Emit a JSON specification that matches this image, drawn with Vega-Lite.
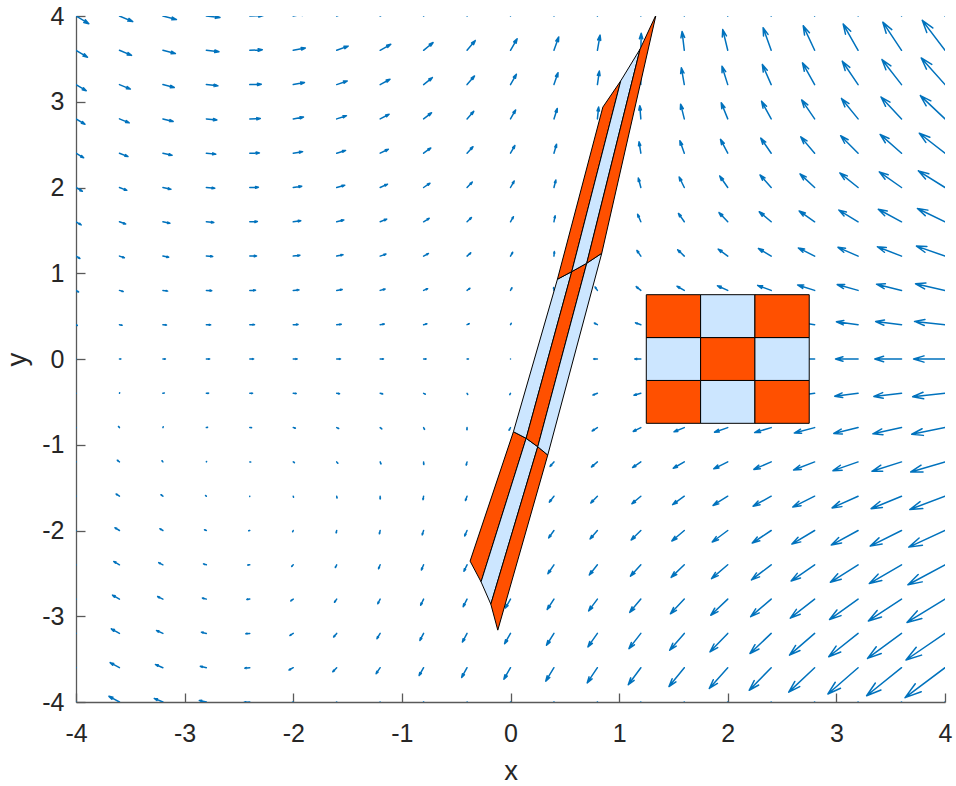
{
"$schema":"https://vega.github.io/schema/vega-lite/v6.json",
"width":869,"height":686,
"autosize":{"type":"none"},
"padding":{"left":76,"top":16,"right":11,"bottom":84},
"config":{"view":{"stroke":null},"font":"Liberation Sans",
"axis":{"grid":false,"tickSize":-9,"labelFontSize":25,"titleFontSize":27.5,"titleFontWeight":"normal","labelColor":"#262626","titleColor":"#262626","domainColor":"#595959","tickColor":"#595959","domainWidth":1.3,"tickWidth":1.3,"labelFlush":false,"labelOverlap":false}},
"datasets":{
"q":[
{"x":-4,"y":-4,"a":-59,"m":14.9},{"x":-4,"y":-3.6,"a":-59,"m":13.4},{"x":-4,"y":-3.2,"a":-59,"m":11.9},{"x":-4,"y":-2.8,"a":-59,"m":10.4},{"x":-4,"y":-2.4,"a":-59,"m":8.9},{"x":-4,"y":-2,"a":-59,"m":7.4},{"x":-4,"y":-1.6,"a":-59,"m":6.0},{"x":-4,"y":-1.2,"a":-59,"m":4.5},{"x":-4,"y":-0.8,"a":-59,"m":3.0},{"x":-4,"y":-0.4,"a":-59,"m":1.5},{"x":-4,"y":0,"a":0,"m":0},{"x":-4,"y":0.4,"a":121,"m":1.5},{"x":-4,"y":0.8,"a":121,"m":3.0},{"x":-4,"y":1.2,"a":121,"m":4.5},{"x":-4,"y":1.6,"a":121,"m":6.0},{"x":-4,"y":2,"a":121,"m":7.4},{"x":-4,"y":2.4,"a":121,"m":8.9},{"x":-4,"y":2.8,"a":121,"m":10.4},{"x":-4,"y":3.2,"a":121,"m":11.9},{"x":-4,"y":3.6,"a":121,"m":13.4},{"x":-4,"y":4,"a":121,"m":14.9},
{"x":-3.6,"y":-4,"a":-61.7,"m":11.9},{"x":-3.6,"y":-3.6,"a":-61.3,"m":10.6},{"x":-3.6,"y":-3.2,"a":-60.9,"m":9.3},{"x":-3.6,"y":-2.8,"a":-60.3,"m":8.0},{"x":-3.6,"y":-2.4,"a":-59.4,"m":6.6},{"x":-3.6,"y":-2,"a":-58.1,"m":5.3},{"x":-3.6,"y":-1.6,"a":-56.0,"m":4.0},{"x":-3.6,"y":-1.2,"a":-51.8,"m":2.7},{"x":-3.6,"y":-0.8,"a":-40.5,"m":1.5},{"x":-3.6,"y":-0.4,"a":21.7,"m":0.6},{"x":-3.6,"y":0,"a":90,"m":1.4},{"x":-3.6,"y":0.4,"a":102.2,"m":2.7},{"x":-3.6,"y":0.8,"a":106.6,"m":3.9},{"x":-3.6,"y":1.2,"a":108.8,"m":5.2},{"x":-3.6,"y":1.6,"a":110.1,"m":6.6},{"x":-3.6,"y":2,"a":111.0,"m":7.9},{"x":-3.6,"y":2.4,"a":111.6,"m":9.2},{"x":-3.6,"y":2.8,"a":112.1,"m":10.5},{"x":-3.6,"y":3.2,"a":112.4,"m":11.8},{"x":-3.6,"y":3.6,"a":112.7,"m":13.1},{"x":-3.6,"y":4,"a":113.0,"m":14.4},
{"x":-3.2,"y":-4,"a":-67.3,"m":9.3},{"x":-3.2,"y":-3.6,"a":-66.6,"m":8.1},{"x":-3.2,"y":-3.2,"a":-65.7,"m":7.0},{"x":-3.2,"y":-2.8,"a":-64.4,"m":5.8},{"x":-3.2,"y":-2.4,"a":-62.5,"m":4.7},{"x":-3.2,"y":-2,"a":-59.3,"m":3.5},{"x":-3.2,"y":-1.6,"a":-53.1,"m":2.4},{"x":-3.2,"y":-1.2,"a":-36.9,"m":1.4},{"x":-3.2,"y":-0.8,"a":22.6,"m":0.8},{"x":-3.2,"y":-0.4,"a":75.7,"m":1.5},{"x":-3.2,"y":0,"a":90,"m":2.5},{"x":-3.2,"y":0.4,"a":95.7,"m":3.6},{"x":-3.2,"y":0.8,"a":98.6,"m":4.8},{"x":-3.2,"y":1.2,"a":100.5,"m":5.9},{"x":-3.2,"y":1.6,"a":101.7,"m":7.1},{"x":-3.2,"y":2,"a":102.6,"m":8.2},{"x":-3.2,"y":2.4,"a":103.2,"m":9.4},{"x":-3.2,"y":2.8,"a":103.8,"m":10.6},{"x":-3.2,"y":3.2,"a":104.2,"m":11.7},{"x":-3.2,"y":3.6,"a":104.5,"m":12.9},{"x":-3.2,"y":4,"a":104.8,"m":14.0},
{"x":-2.8,"y":-4,"a":-77.7,"m":7.2},{"x":-2.8,"y":-3.6,"a":-77.0,"m":6.2},{"x":-2.8,"y":-3.2,"a":-76.1,"m":5.1},{"x":-2.8,"y":-2.8,"a":-74.7,"m":4.1},{"x":-2.8,"y":-2.4,"a":-72.4,"m":3.0},{"x":-2.8,"y":-2,"a":-67.6,"m":2.0},{"x":-2.8,"y":-1.6,"a":-53.7,"m":1.0},{"x":-2.8,"y":-1.2,"a":23.1,"m":0.5},{"x":-2.8,"y":-0.8,"a":76.0,"m":1.3},{"x":-2.8,"y":-0.4,"a":86.1,"m":2.3},{"x":-2.8,"y":0,"a":90,"m":3.3},{"x":-2.8,"y":0.4,"a":92.0,"m":4.3},{"x":-2.8,"y":0.8,"a":93.3,"m":5.4},{"x":-2.8,"y":1.2,"a":94.1,"m":6.4},{"x":-2.8,"y":1.6,"a":94.7,"m":7.5},{"x":-2.8,"y":2,"a":95.2,"m":8.5},{"x":-2.8,"y":2.4,"a":95.6,"m":9.5},{"x":-2.8,"y":2.8,"a":95.8,"m":10.6},{"x":-2.8,"y":3.2,"a":96.1,"m":11.6},{"x":-2.8,"y":3.6,"a":96.3,"m":12.7},{"x":-2.8,"y":4,"a":96.4,"m":13.7},
{"x":-2.4,"y":-4,"a":-95.0,"m":5.9},{"x":-2.4,"y":-3.6,"a":-95.3,"m":5.0},{"x":-2.4,"y":-3.2,"a":-95.9,"m":4.0},{"x":-2.4,"y":-2.8,"a":-96.8,"m":3.0},{"x":-2.4,"y":-2.4,"a":-98.6,"m":2.1},{"x":-2.4,"y":-2,"a":-103.5,"m":1.1},{"x":-2.4,"y":-1.6,"a":-153.3,"m":0.2},{"x":-2.4,"y":-1.2,"a":100.1,"m":0.9},{"x":-2.4,"y":-0.8,"a":93.2,"m":1.8},{"x":-2.4,"y":-0.4,"a":91.0,"m":2.8},{"x":-2.4,"y":0,"a":90,"m":3.8},{"x":-2.4,"y":0.4,"a":89.4,"m":4.7},{"x":-2.4,"y":0.8,"a":89.0,"m":5.7},{"x":-2.4,"y":1.2,"a":88.7,"m":6.7},{"x":-2.4,"y":1.6,"a":88.5,"m":7.6},{"x":-2.4,"y":2,"a":88.3,"m":8.6},{"x":-2.4,"y":2.4,"a":88.2,"m":9.6},{"x":-2.4,"y":2.8,"a":88.1,"m":10.5},{"x":-2.4,"y":3.2,"a":88.0,"m":11.5},{"x":-2.4,"y":3.6,"a":87.9,"m":12.5},{"x":-2.4,"y":4,"a":87.8,"m":13.4},
{"x":-2,"y":-4,"a":-116.4,"m":5.8},{"x":-2,"y":-3.6,"a":-118.4,"m":4.8},{"x":-2,"y":-3.2,"a":-121.5,"m":3.9},{"x":-2,"y":-2.8,"a":-126.3,"m":3.0},{"x":-2,"y":-2.4,"a":-135.1,"m":2.2},{"x":-2,"y":-2,"a":-154.2,"m":1.4},{"x":-2,"y":-1.6,"a":164.3,"m":1.1},{"x":-2,"y":-1.2,"a":122.7,"m":1.4},{"x":-2,"y":-0.8,"a":103.7,"m":2.2},{"x":-2,"y":-0.4,"a":94.9,"m":3.0},{"x":-2,"y":0,"a":90,"m":3.9},{"x":-2,"y":0.4,"a":87.0,"m":4.8},{"x":-2,"y":0.8,"a":84.9,"m":5.8},{"x":-2,"y":1.2,"a":83.4,"m":6.7},{"x":-2,"y":1.6,"a":82.3,"m":7.6},{"x":-2,"y":2,"a":81.4,"m":8.6},{"x":-2,"y":2.4,"a":80.7,"m":9.5},{"x":-2,"y":2.8,"a":80.1,"m":10.4},{"x":-2,"y":3.2,"a":79.6,"m":11.4},{"x":-2,"y":3.6,"a":79.2,"m":12.3},{"x":-2,"y":4,"a":78.9,"m":13.3},
{"x":-1.6,"y":-4,"a":-133.8,"m":6.7},{"x":-1.6,"y":-3.6,"a":-136.4,"m":5.7},{"x":-1.6,"y":-3.2,"a":-140.0,"m":4.8},{"x":-1.6,"y":-2.8,"a":-145.2,"m":3.9},{"x":-1.6,"y":-2.4,"a":-153.4,"m":3.1},{"x":-1.6,"y":-2,"a":-167.2,"m":2.4},{"x":-1.6,"y":-1.6,"a":169.8,"m":1.9},{"x":-1.6,"y":-1.2,"a":139.3,"m":1.8},{"x":-1.6,"y":-0.8,"a":114.2,"m":2.2},{"x":-1.6,"y":-0.4,"a":99.0,"m":2.9},{"x":-1.6,"y":0,"a":90,"m":3.8},{"x":-1.6,"y":0.4,"a":84.3,"m":4.6},{"x":-1.6,"y":0.8,"a":80.4,"m":5.6},{"x":-1.6,"y":1.2,"a":77.7,"m":6.5},{"x":-1.6,"y":1.6,"a":75.6,"m":7.4},{"x":-1.6,"y":2,"a":74.0,"m":8.4},{"x":-1.6,"y":2.4,"a":72.8,"m":9.3},{"x":-1.6,"y":2.8,"a":71.7,"m":10.3},{"x":-1.6,"y":3.2,"a":70.9,"m":11.2},{"x":-1.6,"y":3.6,"a":70.1,"m":12.2},{"x":-1.6,"y":4,"a":69.5,"m":13.2},
{"x":-1.2,"y":-4,"a":-143.9,"m":8.2},{"x":-1.2,"y":-3.6,"a":-146.0,"m":7.2},{"x":-1.2,"y":-3.2,"a":-148.8,"m":6.2},{"x":-1.2,"y":-2.8,"a":-152.7,"m":5.2},{"x":-1.2,"y":-2.4,"a":-158.2,"m":4.3},{"x":-1.2,"y":-2,"a":-166.8,"m":3.4},{"x":-1.2,"y":-1.6,"a":179.2,"m":2.7},{"x":-1.2,"y":-1.2,"a":156.9,"m":2.2},{"x":-1.2,"y":-0.8,"a":128.7,"m":2.1},{"x":-1.2,"y":-0.4,"a":105.0,"m":2.6},{"x":-1.2,"y":0,"a":90,"m":3.3},{"x":-1.2,"y":0.4,"a":80.8,"m":4.2},{"x":-1.2,"y":0.8,"a":74.9,"m":5.1},{"x":-1.2,"y":1.2,"a":70.8,"m":6.1},{"x":-1.2,"y":1.6,"a":67.9,"m":7.1},{"x":-1.2,"y":2,"a":65.7,"m":8.1},{"x":-1.2,"y":2.4,"a":64.0,"m":9.1},{"x":-1.2,"y":2.8,"a":62.6,"m":10.1},{"x":-1.2,"y":3.2,"a":61.5,"m":11.2},{"x":-1.2,"y":3.6,"a":60.6,"m":12.2},{"x":-1.2,"y":4,"a":59.8,"m":13.2},
{"x":-0.8,"y":-4,"a":-148.7,"m":10.2},{"x":-0.8,"y":-3.6,"a":-150.1,"m":9.0},{"x":-0.8,"y":-3.2,"a":-151.9,"m":7.9},{"x":-0.8,"y":-2.8,"a":-154.2,"m":6.8},{"x":-0.8,"y":-2.4,"a":-157.5,"m":5.7},{"x":-0.8,"y":-2,"a":-162.3,"m":4.6},{"x":-0.8,"y":-1.6,"a":-170.1,"m":3.5},{"x":-0.8,"y":-1.2,"a":176.3,"m":2.6},{"x":-0.8,"y":-0.8,"a":151.4,"m":2.0},{"x":-0.8,"y":-0.4,"a":116.7,"m":1.9},{"x":-0.8,"y":0,"a":90,"m":2.5},{"x":-0.8,"y":0.4,"a":75.2,"m":3.4},{"x":-0.8,"y":0.8,"a":66.8,"m":4.4},{"x":-0.8,"y":1.2,"a":61.7,"m":5.5},{"x":-0.8,"y":1.6,"a":58.3,"m":6.6},{"x":-0.8,"y":2,"a":55.8,"m":7.7},{"x":-0.8,"y":2.4,"a":54.0,"m":8.9},{"x":-0.8,"y":2.8,"a":52.6,"m":10.0},{"x":-0.8,"y":3.2,"a":51.5,"m":11.2},{"x":-0.8,"y":3.6,"a":50.6,"m":12.3},{"x":-0.8,"y":4,"a":49.8,"m":13.5},
{"x":-0.4,"y":-4,"a":-150.4,"m":12.4},{"x":-0.4,"y":-3.6,"a":-151.0,"m":11.1},{"x":-0.4,"y":-3.2,"a":-151.8,"m":9.8},{"x":-0.4,"y":-2.8,"a":-152.9,"m":8.5},{"x":-0.4,"y":-2.4,"a":-154.3,"m":7.2},{"x":-0.4,"y":-2,"a":-156.4,"m":5.9},{"x":-0.4,"y":-1.6,"a":-159.6,"m":4.6},{"x":-0.4,"y":-1.2,"a":-165.3,"m":3.3},{"x":-0.4,"y":-0.8,"a":-177.5,"m":2.2},{"x":-0.4,"y":-0.4,"a":148.5,"m":1.3},{"x":-0.4,"y":0,"a":90,"m":1.4},{"x":-0.4,"y":0.4,"a":63.6,"m":2.4},{"x":-0.4,"y":0.8,"a":53.6,"m":3.6},{"x":-0.4,"y":1.2,"a":48.7,"m":4.9},{"x":-0.4,"y":1.6,"a":45.8,"m":6.2},{"x":-0.4,"y":2,"a":43.9,"m":7.5},{"x":-0.4,"y":2.4,"a":42.6,"m":8.8},{"x":-0.4,"y":2.8,"a":41.6,"m":10.1},{"x":-0.4,"y":3.2,"a":40.8,"m":11.4},{"x":-0.4,"y":3.6,"a":40.2,"m":12.7},{"x":-0.4,"y":4,"a":39.7,"m":14.0},
{"x":0,"y":-4,"a":-150.2,"m":14.7},{"x":0,"y":-3.6,"a":-150.2,"m":13.3},{"x":0,"y":-3.2,"a":-150.2,"m":11.8},{"x":0,"y":-2.8,"a":-150.2,"m":10.3},{"x":0,"y":-2.4,"a":-150.2,"m":8.8},{"x":0,"y":-2,"a":-150.2,"m":7.4},{"x":0,"y":-1.6,"a":-150.2,"m":5.9},{"x":0,"y":-1.2,"a":-150.2,"m":4.4},{"x":0,"y":-0.8,"a":-150.2,"m":2.9},{"x":0,"y":-0.4,"a":-150.2,"m":1.5},{"x":0,"y":0,"a":0,"m":0},{"x":0,"y":0.4,"a":29.8,"m":1.5},{"x":0,"y":0.8,"a":29.8,"m":2.9},{"x":0,"y":1.2,"a":29.8,"m":4.4},{"x":0,"y":1.6,"a":29.8,"m":5.9},{"x":0,"y":2,"a":29.8,"m":7.4},{"x":0,"y":2.4,"a":29.8,"m":8.8},{"x":0,"y":2.8,"a":29.8,"m":10.3},{"x":0,"y":3.2,"a":29.8,"m":11.8},{"x":0,"y":3.6,"a":29.8,"m":13.3},{"x":0,"y":4,"a":29.8,"m":14.7},
{"x":0.4,"y":-4,"a":-149.0,"m":17.3},{"x":0.4,"y":-3.6,"a":-148.5,"m":15.7},{"x":0.4,"y":-3.2,"a":-147.8,"m":14.0},{"x":0.4,"y":-2.8,"a":-146.9,"m":12.4},{"x":0.4,"y":-2.4,"a":-145.8,"m":10.8},{"x":0.4,"y":-2,"a":-144.4,"m":9.1},{"x":0.4,"y":-1.6,"a":-142.2,"m":7.5},{"x":0.4,"y":-1.2,"a":-138.9,"m":5.9},{"x":0.4,"y":-0.8,"a":-133.2,"m":4.3},{"x":0.4,"y":-0.4,"a":-121.3,"m":2.9},{"x":0.4,"y":0,"a":-90,"m":1.7},{"x":0.4,"y":0.4,"a":-34.1,"m":1.8},{"x":0.4,"y":0.8,"a":-5.5,"m":3.0},{"x":0.4,"y":1.2,"a":5.6,"m":4.5},{"x":0.4,"y":1.6,"a":11.0,"m":6.1},{"x":0.4,"y":2,"a":14.2,"m":7.7},{"x":0.4,"y":2.4,"a":16.2,"m":9.3},{"x":0.4,"y":2.8,"a":17.7,"m":10.9},{"x":0.4,"y":3.2,"a":18.8,"m":12.6},{"x":0.4,"y":3.6,"a":19.6,"m":14.2},{"x":0.4,"y":4,"a":20.2,"m":15.8},
{"x":0.8,"y":-4,"a":-147.1,"m":20.1},{"x":0.8,"y":-3.6,"a":-146.1,"m":18.3},{"x":0.8,"y":-3.2,"a":-144.9,"m":16.5},{"x":0.8,"y":-2.8,"a":-143.4,"m":14.7},{"x":0.8,"y":-2.4,"a":-141.5,"m":13.0},{"x":0.8,"y":-2,"a":-139.0,"m":11.2},{"x":0.8,"y":-1.6,"a":-135.6,"m":9.5},{"x":0.8,"y":-1.2,"a":-130.6,"m":7.8},{"x":0.8,"y":-0.8,"a":-123.0,"m":6.2},{"x":0.8,"y":-0.4,"a":-110.7,"m":4.8},{"x":0.8,"y":0,"a":-90,"m":3.8},{"x":0.8,"y":0.4,"a":-61.0,"m":3.5},{"x":0.8,"y":0.8,"a":-34.6,"m":4.1},{"x":0.8,"y":1.2,"a":-17.7,"m":5.3},{"x":0.8,"y":1.6,"a":-7.6,"m":6.8},{"x":0.8,"y":2,"a":-1.3,"m":8.4},{"x":0.8,"y":2.4,"a":3.0,"m":10.2},{"x":0.8,"y":2.8,"a":6.0,"m":11.9},{"x":0.8,"y":3.2,"a":8.2,"m":13.7},{"x":0.8,"y":3.6,"a":10.0,"m":15.4},{"x":0.8,"y":4,"a":11.3,"m":17.2},
{"x":1.2,"y":-4,"a":-144.9,"m":23.2},{"x":1.2,"y":-3.6,"a":-143.6,"m":21.2},{"x":1.2,"y":-3.2,"a":-142.0,"m":19.3},{"x":1.2,"y":-2.8,"a":-140.0,"m":17.3},{"x":1.2,"y":-2.4,"a":-137.5,"m":15.4},{"x":1.2,"y":-2,"a":-134.3,"m":13.6},{"x":1.2,"y":-1.6,"a":-130.1,"m":11.8},{"x":1.2,"y":-1.2,"a":-124.5,"m":10.0},{"x":1.2,"y":-0.8,"a":-116.6,"m":8.5},{"x":1.2,"y":-0.4,"a":-105.5,"m":7.1},{"x":1.2,"y":0,"a":-90,"m":6.1},{"x":1.2,"y":0.4,"a":-70.7,"m":5.7},{"x":1.2,"y":0.8,"a":-51.0,"m":6.0},{"x":1.2,"y":1.2,"a":-34.9,"m":6.9},{"x":1.2,"y":1.6,"a":-23.2,"m":8.2},{"x":1.2,"y":2,"a":-14.9,"m":9.8},{"x":1.2,"y":2.4,"a":-9.0,"m":11.5},{"x":1.2,"y":2.8,"a":-4.7,"m":13.3},{"x":1.2,"y":3.2,"a":-1.4,"m":15.2},{"x":1.2,"y":3.6,"a":1.2,"m":17.1},{"x":1.2,"y":4,"a":3.2,"m":19.0},
{"x":1.6,"y":-4,"a":-142.6,"m":26.4},{"x":1.6,"y":-3.6,"a":-140.9,"m":24.3},{"x":1.6,"y":-3.2,"a":-139.0,"m":22.3},{"x":1.6,"y":-2.8,"a":-136.6,"m":20.2},{"x":1.6,"y":-2.4,"a":-133.7,"m":18.2},{"x":1.6,"y":-2,"a":-130.2,"m":16.3},{"x":1.6,"y":-1.6,"a":-125.7,"m":14.4},{"x":1.6,"y":-1.2,"a":-119.9,"m":12.7},{"x":1.6,"y":-0.8,"a":-112.3,"m":11.1},{"x":1.6,"y":-0.4,"a":-102.4,"m":9.7},{"x":1.6,"y":0,"a":-90,"m":8.8},{"x":1.6,"y":0.4,"a":-75.4,"m":8.3},{"x":1.6,"y":0.8,"a":-60.2,"m":8.4},{"x":1.6,"y":1.2,"a":-46.3,"m":9.1},{"x":1.6,"y":1.6,"a":-34.9,"m":10.2},{"x":1.6,"y":2,"a":-26.1,"m":11.7},{"x":1.6,"y":2.4,"a":-19.3,"m":13.3},{"x":1.6,"y":2.8,"a":-14.0,"m":15.2},{"x":1.6,"y":3.2,"a":-9.9,"m":17.1},{"x":1.6,"y":3.6,"a":-6.7,"m":19.0},{"x":1.6,"y":4,"a":-4.0,"m":21.0},
{"x":2,"y":-4,"a":-140.1,"m":30.0},{"x":2,"y":-3.6,"a":-138.3,"m":27.8},{"x":2,"y":-3.2,"a":-136.1,"m":25.6},{"x":2,"y":-2.8,"a":-133.5,"m":23.4},{"x":2,"y":-2.4,"a":-130.4,"m":21.3},{"x":2,"y":-2,"a":-126.6,"m":19.3},{"x":2,"y":-1.6,"a":-122.0,"m":17.4},{"x":2,"y":-1.2,"a":-116.3,"m":15.6},{"x":2,"y":-0.8,"a":-109.2,"m":14.0},{"x":2,"y":-0.4,"a":-100.4,"m":12.7},{"x":2,"y":0,"a":-90,"m":11.8},{"x":2,"y":0.4,"a":-78.2,"m":11.3},{"x":2,"y":0.8,"a":-65.8,"m":11.3},{"x":2,"y":1.2,"a":-54.0,"m":11.8},{"x":2,"y":1.6,"a":-43.6,"m":12.7},{"x":2,"y":2,"a":-34.8,"m":14.0},{"x":2,"y":2.4,"a":-27.7,"m":15.6},{"x":2,"y":2.8,"a":-22.0,"m":17.4},{"x":2,"y":3.2,"a":-17.4,"m":19.3},{"x":2,"y":3.6,"a":-13.6,"m":21.3},{"x":2,"y":4,"a":-10.5,"m":23.4},
{"x":2.4,"y":-4,"a":-137.7,"m":33.9},{"x":2.4,"y":-3.6,"a":-135.7,"m":31.5},{"x":2.4,"y":-3.2,"a":-133.4,"m":29.2},{"x":2.4,"y":-2.8,"a":-130.6,"m":27.0},{"x":2.4,"y":-2.4,"a":-127.4,"m":24.8},{"x":2.4,"y":-2,"a":-123.5,"m":22.7},{"x":2.4,"y":-1.6,"a":-118.9,"m":20.7},{"x":2.4,"y":-1.2,"a":-113.4,"m":18.9},{"x":2.4,"y":-0.8,"a":-106.8,"m":17.3},{"x":2.4,"y":-0.4,"a":-99.0,"m":16.0},{"x":2.4,"y":0,"a":-90,"m":15.1},{"x":2.4,"y":0.4,"a":-80.0,"m":14.5},{"x":2.4,"y":0.8,"a":-69.6,"m":14.4},{"x":2.4,"y":1.2,"a":-59.4,"m":14.8},{"x":2.4,"y":1.6,"a":-50.0,"m":15.6},{"x":2.4,"y":2,"a":-41.7,"m":16.8},{"x":2.4,"y":2.4,"a":-34.7,"m":18.3},{"x":2.4,"y":2.8,"a":-28.7,"m":20.0},{"x":2.4,"y":3.2,"a":-23.8,"m":21.9},{"x":2.4,"y":3.6,"a":-19.7,"m":24.0},{"x":2.4,"y":4,"a":-16.2,"m":26.1},
{"x":2.8,"y":-4,"a":-135.4,"m":38.1},{"x":2.8,"y":-3.6,"a":-133.3,"m":35.6},{"x":2.8,"y":-3.2,"a":-130.8,"m":33.2},{"x":2.8,"y":-2.8,"a":-128.0,"m":30.9},{"x":2.8,"y":-2.4,"a":-124.7,"m":28.6},{"x":2.8,"y":-2,"a":-120.9,"m":26.5},{"x":2.8,"y":-1.6,"a":-116.4,"m":24.4},{"x":2.8,"y":-1.2,"a":-111.1,"m":22.6},{"x":2.8,"y":-0.8,"a":-105.0,"m":21.0},{"x":2.8,"y":-0.4,"a":-97.9,"m":19.7},{"x":2.8,"y":0,"a":-90,"m":18.7},{"x":2.8,"y":0.4,"a":-81.4,"m":18.1},{"x":2.8,"y":0.8,"a":-72.3,"m":17.9},{"x":2.8,"y":1.2,"a":-63.4,"m":18.2},{"x":2.8,"y":1.6,"a":-54.9,"m":18.9},{"x":2.8,"y":2,"a":-47.1,"m":20.0},{"x":2.8,"y":2.4,"a":-40.3,"m":21.4},{"x":2.8,"y":2.8,"a":-34.4,"m":23.0},{"x":2.8,"y":3.2,"a":-29.3,"m":24.9},{"x":2.8,"y":3.6,"a":-25.0,"m":27.0},{"x":2.8,"y":4,"a":-21.3,"m":29.1},
{"x":3.2,"y":-4,"a":-133.2,"m":42.6},{"x":3.2,"y":-3.6,"a":-131.0,"m":40.0},{"x":3.2,"y":-3.2,"a":-128.5,"m":37.5},{"x":3.2,"y":-2.8,"a":-125.6,"m":35.1},{"x":3.2,"y":-2.4,"a":-122.3,"m":32.8},{"x":3.2,"y":-2,"a":-118.5,"m":30.5},{"x":3.2,"y":-1.6,"a":-114.2,"m":28.5},{"x":3.2,"y":-1.2,"a":-109.2,"m":26.6},{"x":3.2,"y":-0.8,"a":-103.5,"m":25.0},{"x":3.2,"y":-0.4,"a":-97.1,"m":23.6},{"x":3.2,"y":0,"a":-90,"m":22.6},{"x":3.2,"y":0.4,"a":-82.4,"m":21.9},{"x":3.2,"y":0.8,"a":-74.4,"m":21.7},{"x":3.2,"y":1.2,"a":-66.4,"m":21.9},{"x":3.2,"y":1.6,"a":-58.7,"m":22.5},{"x":3.2,"y":2,"a":-51.5,"m":23.4},{"x":3.2,"y":2.4,"a":-45.0,"m":24.7},{"x":3.2,"y":2.8,"a":-39.2,"m":26.3},{"x":3.2,"y":3.2,"a":-34.1,"m":28.2},{"x":3.2,"y":3.6,"a":-29.6,"m":30.2},{"x":3.2,"y":4,"a":-25.8,"m":32.4},
{"x":3.6,"y":-4,"a":-131.1,"m":47.5},{"x":3.6,"y":-3.6,"a":-128.8,"m":44.8},{"x":3.6,"y":-3.2,"a":-126.3,"m":42.2},{"x":3.6,"y":-2.8,"a":-123.4,"m":39.7},{"x":3.6,"y":-2.4,"a":-120.2,"m":37.3},{"x":3.6,"y":-2,"a":-116.5,"m":35.0},{"x":3.6,"y":-1.6,"a":-112.3,"m":32.9},{"x":3.6,"y":-1.2,"a":-107.6,"m":31.0},{"x":3.6,"y":-0.8,"a":-102.3,"m":29.3},{"x":3.6,"y":-0.4,"a":-96.4,"m":27.9},{"x":3.6,"y":0,"a":-90,"m":26.8},{"x":3.6,"y":0.4,"a":-83.1,"m":26.1},{"x":3.6,"y":0.8,"a":-76.0,"m":25.8},{"x":3.6,"y":1.2,"a":-68.8,"m":25.9},{"x":3.6,"y":1.6,"a":-61.7,"m":26.4},{"x":3.6,"y":2,"a":-55.0,"m":27.2},{"x":3.6,"y":2.4,"a":-48.8,"m":28.5},{"x":3.6,"y":2.8,"a":-43.2,"m":30.0},{"x":3.6,"y":3.2,"a":-38.1,"m":31.8},{"x":3.6,"y":3.6,"a":-33.7,"m":33.8},{"x":3.6,"y":4,"a":-29.7,"m":36.0},
{"x":4,"y":-4,"a":-129.1,"m":52.7},{"x":4,"y":-3.6,"a":-126.9,"m":49.9},{"x":4,"y":-3.2,"a":-124.3,"m":47.2},{"x":4,"y":-2.8,"a":-121.5,"m":44.6},{"x":4,"y":-2.4,"a":-118.3,"m":42.1},{"x":4,"y":-2,"a":-114.7,"m":39.8},{"x":4,"y":-1.6,"a":-110.7,"m":37.6},{"x":4,"y":-1.2,"a":-106.3,"m":35.7},{"x":4,"y":-0.8,"a":-101.3,"m":33.9},{"x":4,"y":-0.4,"a":-95.9,"m":32.5},{"x":4,"y":0,"a":-90,"m":31.4},{"x":4,"y":0.4,"a":-83.8,"m":30.6},{"x":4,"y":0.8,"a":-77.3,"m":30.2},{"x":4,"y":1.2,"a":-70.7,"m":30.2},{"x":4,"y":1.6,"a":-64.2,"m":30.6},{"x":4,"y":2,"a":-58.0,"m":31.4},{"x":4,"y":2.4,"a":-52.1,"m":32.5},{"x":4,"y":2.8,"a":-46.6,"m":33.9},{"x":4,"y":3.2,"a":-41.7,"m":35.7},{"x":4,"y":3.6,"a":-37.2,"m":37.6},{"x":4,"y":4,"a":-33.2,"m":39.8}
],
"sq":[
{"x0":1.25,"x1":1.75,"y0":-0.75,"y1":-0.25,"c":"o"},{"x0":1.75,"x1":2.25,"y0":-0.75,"y1":-0.25,"c":"b"},{"x0":2.25,"x1":2.75,"y0":-0.75,"y1":-0.25,"c":"o"},
{"x0":1.25,"x1":1.75,"y0":-0.25,"y1":0.25,"c":"b"},{"x0":1.75,"x1":2.25,"y0":-0.25,"y1":0.25,"c":"o"},{"x0":2.25,"x1":2.75,"y0":-0.25,"y1":0.25,"c":"b"},
{"x0":1.25,"x1":1.75,"y0":0.25,"y1":0.75,"c":"o"},{"x0":1.75,"x1":2.25,"y0":0.25,"y1":0.75,"c":"b"},{"x0":2.25,"x1":2.75,"y0":0.25,"y1":0.75,"c":"o"}
],
"st":[
{"id":"s00","k":0,"x":-0.372,"y":-2.357,"c":"o"},{"id":"s00","k":1,"x":-0.271,"y":-2.599,"c":"o"},{"id":"s00","k":2,"x":0.144,"y":-0.925,"c":"o"},{"id":"s00","k":3,"x":0.027,"y":-0.848,"c":"o"},{"id":"s00","k":4,"x":-0.372,"y":-2.357,"c":"o"},
{"id":"s10","k":0,"x":-0.271,"y":-2.599,"c":"b"},{"id":"s10","k":1,"x":-0.181,"y":-2.859,"c":"b"},{"id":"s10","k":2,"x":0.251,"y":-1.023,"c":"b"},{"id":"s10","k":3,"x":0.144,"y":-0.925,"c":"b"},{"id":"s10","k":4,"x":-0.271,"y":-2.599,"c":"b"},
{"id":"s20","k":0,"x":-0.181,"y":-2.859,"c":"o"},{"id":"s20","k":1,"x":-0.117,"y":-3.162,"c":"o"},{"id":"s20","k":2,"x":0.343,"y":-1.120,"c":"o"},{"id":"s20","k":3,"x":0.251,"y":-1.023,"c":"o"},{"id":"s20","k":4,"x":-0.181,"y":-2.859,"c":"o"},
{"id":"s01","k":0,"x":0.027,"y":-0.848,"c":"b"},{"id":"s01","k":1,"x":0.144,"y":-0.925,"c":"b"},{"id":"s01","k":2,"x":0.564,"y":1.019,"c":"b"},{"id":"s01","k":3,"x":0.432,"y":0.930,"c":"b"},{"id":"s01","k":4,"x":0.027,"y":-0.848,"c":"b"},
{"id":"s11","k":0,"x":0.144,"y":-0.925,"c":"o"},{"id":"s11","k":1,"x":0.251,"y":-1.023,"c":"o"},{"id":"s11","k":2,"x":0.702,"y":1.117,"c":"o"},{"id":"s11","k":3,"x":0.564,"y":1.019,"c":"o"},{"id":"s11","k":4,"x":0.144,"y":-0.925,"c":"o"},
{"id":"s21","k":0,"x":0.251,"y":-1.023,"c":"b"},{"id":"s21","k":1,"x":0.343,"y":-1.120,"c":"b"},{"id":"s21","k":2,"x":0.840,"y":1.233,"c":"b"},{"id":"s21","k":3,"x":0.702,"y":1.117,"c":"b"},{"id":"s21","k":4,"x":0.251,"y":-1.023,"c":"b"},
{"id":"s02","k":0,"x":0.432,"y":0.930,"c":"o"},{"id":"s02","k":1,"x":0.564,"y":1.019,"c":"o"},{"id":"s02","k":2,"x":1.015,"y":3.244,"c":"o"},{"id":"s02","k":3,"x":0.850,"y":2.937,"c":"o"},{"id":"s02","k":4,"x":0.432,"y":0.930,"c":"o"},
{"id":"s12","k":0,"x":0.564,"y":1.019,"c":"b"},{"id":"s12","k":1,"x":0.702,"y":1.117,"c":"b"},{"id":"s12","k":2,"x":1.193,"y":3.614,"c":"b"},{"id":"s12","k":3,"x":1.015,"y":3.244,"c":"b"},{"id":"s12","k":4,"x":0.564,"y":1.019,"c":"b"},
{"id":"s22","k":0,"x":0.702,"y":1.117,"c":"o"},{"id":"s22","k":1,"x":0.840,"y":1.233,"c":"o"},{"id":"s22","k":2,"x":1.340,"y":4.014,"c":"o"},{"id":"s22","k":3,"x":1.193,"y":3.614,"c":"o"},{"id":"s22","k":4,"x":0.702,"y":1.117,"c":"o"}
]
},
"layer":[
{"data":{"name":"q"},
 "mark":{"type":"point","shape":"M0,0L0,-1M-0.1,-0.67L0,-1L0.1,-0.67","filled":false,"color":"#0072BD","strokeWidth":1.5,"opacity":1,"clip":true,"strokeCap":"round","strokeJoin":"round"},
 "encoding":{
  "x":{"field":"x","type":"quantitative","scale":{"domain":[-4,4],"nice":false,"zero":false},"axis":{"title":"x","values":[-4,-3,-2,-1,0,1,2,3,4],"labelExpr":"'' + datum.value","labelPadding":28,"titlePadding":11}},
  "y":{"field":"y","type":"quantitative","scale":{"domain":[-4,4],"nice":false,"zero":false},"axis":{"title":"y","values":[-4,-3,-2,-1,0,1,2,3,4],"labelExpr":"'' + datum.value","labelPadding":21,"titlePadding":10}},
  "angle":{"field":"a","type":"quantitative","scale":null},
  "size":{"field":"m","type":"quantitative","scale":{"type":"pow","exponent":2,"domain":[0,50],"range":[0,10000]},"legend":null}
 }},
{"data":{"name":"sq"},
 "mark":{"type":"rect","stroke":"#000000","strokeWidth":1},
 "encoding":{
  "x":{"field":"x0","type":"quantitative"},"x2":{"field":"x1"},
  "y":{"field":"y0","type":"quantitative"},"y2":{"field":"y1"},
  "color":{"field":"c","type":"nominal","scale":{"domain":["o","b"],"range":["#FF5000","#CCE6FF"]},"legend":null}
 }},
{"data":{"name":"st"},
 "mark":{"type":"line","filled":true,"stroke":"#000000","strokeWidth":1,"clip":true,"interpolate":"linear"},
 "encoding":{
  "x":{"field":"x","type":"quantitative"},
  "y":{"field":"y","type":"quantitative"},
  "order":{"field":"k","type":"quantitative"},
  "detail":{"field":"id","type":"nominal"},
  "color":{"field":"c","type":"nominal","scale":{"domain":["o","b"],"range":["#FF5000","#CCE6FF"]},"legend":null}
 }}
]
}
